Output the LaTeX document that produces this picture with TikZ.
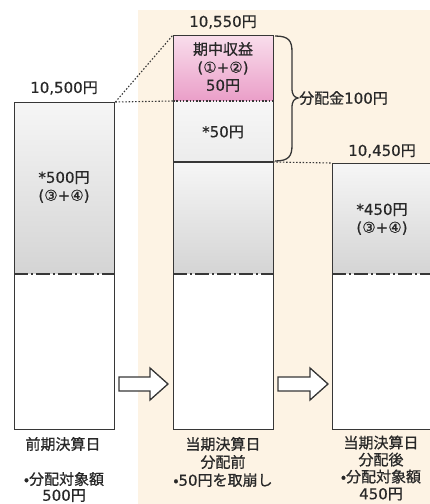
\documentclass[tikz,border=0pt]{standalone}
\usepackage{fontspec}
\setmainfont{Noto Sans CJK JP}[FakeBold=0.8]
\newfontfamily\numfont{DejaVu Sans}[FakeBold=0.5]
\usetikzlibrary{calc}
\definecolor{bgbeige}{RGB}{253,243,228}
\definecolor{edge}{RGB}{55,55,55}
\definecolor{txt}{RGB}{40,40,40}
\definecolor{graytop}{RGB}{246,246,246}
\definecolor{graybot}{RGB}{212,212,212}
\definecolor{pinktop}{RGB}{249,222,236}
\definecolor{pinkbot}{RGB}{234,158,200}
\definecolor{lighttop}{RGB}{247,247,247}
\definecolor{lightbot}{RGB}{236,236,236}
\newcommand{\nm}[1]{{\numfont #1}}
\begin{document}
\begin{tikzpicture}[x=1pt,y=-1pt,
  boxline/.style={draw=edge,line width=1.4pt},
  sepline/.style={draw=edge,line width=1.1pt,dash pattern=on 14pt off 3pt on 2pt off 3pt},
  dotline/.style={draw=edge,line width=1.1pt,dash pattern=on 1.5pt off 1.8pt},
  lbl/.style={text=txt,font=\fontsize{15}{18}\selectfont,align=center,inner sep=0pt},
  hollowarrow/.style={draw=edge,line width=1.3pt,fill=white,line join=miter}]
\useasboundingbox (0,0) rectangle (430,504);
\clip (0,0) rectangle (430,504);
\fill[bgbeige] (138,10) rectangle (440,510);
% left column
\shade[top color=graytop,bottom color=graybot] (14,102) rectangle (114,274);
\fill[white] (14,274) rectangle (114,429);
\draw[sepline] (14,274) -- (114,274);
\node[boxline,anchor=north west,minimum width=100pt,minimum height=327pt,inner sep=0pt] (L) at (14,102) {};
\node[lbl] (Lv) at (64,187) {\nm{*500}円\\\nm{(③+④)}};
\node[lbl] (Lt) at (64,88) {\nm{10,500}円};
% middle column
\shade[top color=pinktop,bottom color=pinkbot] (173,35) rectangle (273,101);
\shade[top color=lighttop,bottom color=lightbot] (173,101) rectangle (273,162);
\shade[top color=graytop,bottom color=graybot] (173,162) rectangle (273,274);
\fill[white] (173,274) rectangle (273,429);
\draw[sepline] (173,274) -- (273,274);
\draw[dotline] (173,101) -- (273,101);
\draw[boxline] (173,162) -- (273,162);
\node[boxline,anchor=north west,minimum width=100pt,minimum height=394pt,inner sep=0pt] (M) at (173,35) {};
\node[lbl] (Mp) at (223,67) {期中収益\\\nm{(①+②)}\\\nm{50}円};
\node[lbl] (Mq) at (223,132) {\nm{*50}円};
\node[lbl] (Mt) at (223,22) {\nm{10,550}円};
% right column
\shade[top color=graytop,bottom color=graybot] (332,163) rectangle (432,274);
\fill[white] (332,274) rectangle (432,429);
\draw[sepline] (332,274) -- (432,274);
\node[boxline,anchor=north west,minimum width=100pt,minimum height=266pt,inner sep=0pt] (R) at (332,163) {};
\node[lbl] (Rv) at (382,219) {\nm{*450}円\\\nm{(③+④)}};
\node[lbl] (Rt) at (382,151) {\nm{10,450}円};
% connecting dotted lines
\draw[dotline] (L.north east) -- (M.north west);
\draw[dotline] (L.north east) -- (173,101);
\draw[dotline] (273,162) -- (R.north west);
% brace
\draw[edge,line width=1.3pt] (275,36) .. controls (289,36) and (292,41) .. (292,52) -- (292,88)
  .. controls (292,95) and (294,97) .. (298,98) .. controls (294,99) and (292,101) .. (292,108)
  -- (292,145) .. controls (292,156) and (289,161) .. (275,161);
\node[lbl,anchor=west] (D) at (299,98) {分配金\nm{100}円};
% hollow arrows
\draw[hollowarrow] (119,377) -- (150,377) -- (150,368) -- (168,384) -- (150,400) -- (150,391) -- (119,391) -- cycle;
\draw[hollowarrow] (278,377) -- (310,377) -- (310,368) -- (328,384) -- (310,400) -- (310,391) -- (278,391) -- cycle;
% bottom labels
\node[lbl] (Lb) at (63,444) {前期決算日};
\node[lbl,font=\fontsize{15}{16}\selectfont] (Lc) at (64,487) {•分配対象額\\\nm{500}円};
\node[lbl] (Mb) at (223,462) {当期決算日\\分配前\\•\nm{50}円を取崩し};
\node[lbl,font=\fontsize{15}{17}\selectfont] (Rb) at (381,468) {当期決算日\\分配後\\•分配対象額\\\nm{450}円};
\end{tikzpicture}
\end{document}
